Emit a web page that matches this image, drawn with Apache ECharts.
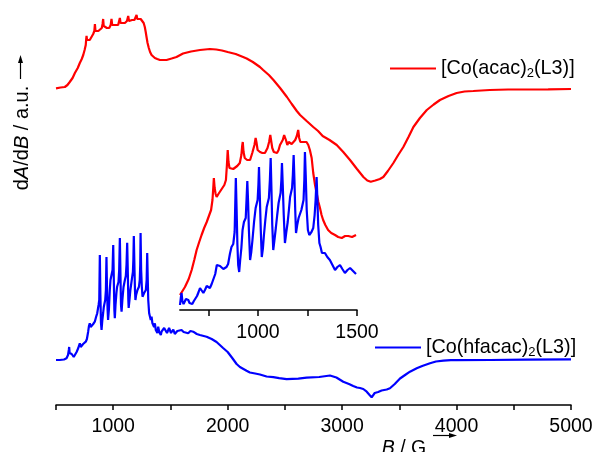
<!DOCTYPE html>
<html>
<head>
<meta charset="utf-8">
<script src="https://cdn.jsdelivr.net/npm/echarts@6/dist/echarts.min.js"></script>
<style>
html,body{margin:0;padding:0;background:#fff;}
#chart{width:596px;height:452px;}
</style>
</head>
<body>
<div id="chart"></div>
<script>
// ---- Main spectrum: [Co(acac)2(L3)] (red) ----
const acacField = [500,540,577,600,620,645,665,690,708,725,738,750,760,764,767,771,780,795,810,825,835,840,845,855,870,883,900,907,912,917,927,945,965,978,985,991,1005,1025,1043,1052,1058,1064,1080,1102,1120,1131,1138,1152,1165,1174,1185,1198,1204,1210,1224,1240,1250,1256,1266,1276,1284,1291,1300,1311,1322,1335,1350,1364,1385,1408,1435,1466,1510,1553,1610,1680,1758,1845,1900,1950,2000,2070,2135,2166,2220,2282,2310,2360,2400,2458,2518,2560,2604,2633,2690,2748,2790,2830,2890,2953,3010,3069,3130,3186,3220,3250,3290,3330,3360,3400,3448,3490,3535,3580,3623,3680,3740,3800,3855,3930,4001,4070,4146,4290,4450,4600,4800,5000];
const acacSignal = [316.7,317.5,318,320,323,327,332,337,342,346,350,355,360,366,369,365,364,365,367,371,374,381,374,373,374,375,377,381,386,379,377,377,377,380,386,380,379,380,380,382,387,382,382,382,384,389,384,384,385,386,385,386,390,386,385,386,386,385,382,378,373,368,362,357,353,350,348,347,346,345,345,345,346.5,348,351.5,353.5,355,356,355.5,354.5,353,351,348,346.5,343,338,335,330,325,317,308,301,294,290,284,278,274,269,265,260,253,245,236,228,224.5,223.3,224.5,226,228,234,242,250,258,268,278,287,295,300.5,305,309,312,313.5,314,315,315.5,315.5,315.7,316];

// ---- Main spectrum: [Co(hfacac)2(L3)] (blue) ----
const hfField = [500,533,570,592,605,612,615,619,625,630,637,645,655,665,680,694,700,708,716,723,730,737,750,760,770,781,788,795,803,810,825,839,850,860,872,878,883,888,893,898,905,912,918,930,936,941,946,951,955,962,970,976,988,994,1000,1006,1010,1014,1020,1028,1034,1046,1052,1058,1064,1068,1073,1080,1090,1102,1110,1116,1122,1128,1132,1135,1142,1150,1166,1172,1176,1180,1186,1190,1194,1200,1212,1225,1232,1236,1239,1244,1250,1256,1262,1270,1285,1292,1297,1302,1306,1314,1320,1328,1335,1342,1350,1357,1364,1372,1380,1386,1393,1402,1410,1416,1422,1430,1437,1445,1452,1460,1470,1480,1488,1495,1505,1515,1525,1538,1550,1560,1575,1597,1615,1630,1655,1675,1690,1699,1730,1757,1816,1860,1903,1960,2000,2040,2078,2107,2165,2194,2240,2282,2340,2399,2450,2515,2617,2690,2800,2894,2950,3010,3060,3097,3130,3156,3185,3215,3240,3258,3270,3285,3302,3315,3330,3345,3360,3390,3418,3460,3506,3550,3593,3652,3700,3768,3820,3885,3950,4000,4290,4600,5000];
const hfSignal = [45,45,45.5,46.7,50,55,58,52,51,50,51,52.3,48,48.3,53,56.7,59,61.7,58,59,60,61,61,63.3,66,73.3,79,81.7,78,78.3,81,83.3,88,91.7,100,105,150,110,82,75,85,92,98.3,105,115,148,115,95,85,95,115,125,127,135,160,120,95,86.7,100,112,118.3,123,135,167,125,100,93.3,105,118,125,129,140,162.3,130,105,97,105,115,128.3,133,145,169,135,115,105,110,115,118.3,125,140,172,135,118,108.3,110,112,115,125,152,125,105,91.7,90,85,88.3,82,83,78,81.7,75,76.7,72,78.3,73,75,70,73.3,74,71.7,77,75,76.7,72,73.3,77,75,72,74,75.5,71,73,74,72,75,73,71,71.7,74,73,73.3,71,70,68.3,66,63,57,53,47,41,38,34.3,32.5,31.5,30.5,28.5,27.8,26.8,25.8,26.3,27.3,28,29.5,27.5,23.3,21,19,17.5,17,16,13.3,10,7.7,9.5,12,11.7,13,12.5,14.5,14.5,15.5,16.7,21,26.5,30,33.3,36.7,39,41.7,43.5,44.3,44.8,44.8,45,45.4,45.7];

// ---- Inset (600-1500 G): red ----
const insetAcacField = [606,631,650,665,678,690,703,715,728,741,752,763,770,774,777,781,786,791,800,808,820,830,838,843,847,851,856,865,875,883,895,908,916,920,923,927,933,945,960,971,982,988,992,998,1010,1022,1035,1048,1056,1062,1066,1072,1080,1096,1104,1111,1125,1132,1136,1141,1148,1155,1162,1170,1178,1188,1196,1203,1208,1214,1221,1230,1237,1245,1254,1262,1271,1279,1288,1296,1305,1313,1321,1329,1340,1354,1370,1389,1405,1423,1440,1456,1475,1495];
const insetAcacSignal = [15,23,31,40,50,60,68,75,82,88,94,100,110,122,132,122,116,113,116,118,122,125,130,145,160,148,142,140,141,142,144,147,155,164,168,158,152,150,150,157,165,172,168,160,158,157,157,162,168,175,173,162,158,157,160,165,170,175,177,170,165,168,170,166,165,170,174,180,172,168,167,168,168,168,165,160,152,137,125,117,108,102,95,90,85,80,77,75,73,72,74,74,73,75];

// ---- Inset (600-1500 G): blue ----
const insetHfField = [606,610,614,618,624,630,636,642,648,654,660,668,676,684,692,700,707,715,724,732,741,748,757,766,774,784,792,798,808,816,825,833,841,849,858,866,875,882,888,892,896,900,905,910,916,922,929,938,942,946,950,954,960,966,972,980,988,998,1002,1005,1009,1014,1019,1025,1030,1037,1044,1055,1060,1064,1068,1072,1077,1083,1090,1097,1104,1114,1118,1121,1125,1130,1136,1143,1150,1156,1162,1172,1176,1180,1184,1188,1192,1198,1205,1212,1219,1230,1234,1237,1241,1246,1252,1259,1265,1270,1279,1286,1291,1296,1300,1304,1310,1316,1323,1338,1350,1363,1376,1389,1401,1414,1426,1439,1452,1465,1480,1495];
const insetHfSignal = [5,12,17,9,6,7,11,13,10,7,8,6,9,10,14,18,22,23,17,20,24,25,22,26,28,36,45,47,44,42,41,40,43,46,56,63,66,78,132,100,65,45,38,50,62,80,88,92,110,129,108,80,50,58,70,88,102,110,125,143,115,80,53,62,75,90,103,112,130,152,120,85,60,70,82,95,107,117,130,147,125,95,67,78,88,100,113,122,135,155,130,100,77,85,92,96,100,110,130,158,135,100,80,75,77,78,82,95,110,133,110,85,67,63,57,57,53,50,45,40,43,45,41,37,40,42,39,36];

// ---- Axis ticks / labels ----
const mainTickStep = 500;
const mainLabelStep = 1000;
const insetTickValues = [750,1000,1250,1500];
const insetTickLabels = [1000,1500];

const seriesNames = ['[Co(acac)2(L3)]','[Co(hfacac)2(L3)]'];

function zip(a,b){ return a.map((v,i)=>[v,b[i]]); }

const FONT = "Liberation Sans";
const chart = echarts.init(document.getElementById('chart'), null, {renderer:'canvas'});
const richSub = {
  sub: { fontSize: 13, lineHeight: 13, padding: [10,0,0,0], fontFamily: FONT, color:'#000' }
};
function legendFmt(name){
  return name.replace('2(', '{sub|2}(');
}
const labelStyle = { fontSize: 19.5, color: '#000', fontFamily: FONT };

const option = {
  animation: false,
  backgroundColor: '#fff',
  textStyle: { fontFamily: FONT, fontSize: 19 },
  grid: [
    { left: 56, right: 25, top: 0, height: 405, containLabel: false },
    { left: 179.8, width: 177.2, top: 110, height: 200, containLabel: false }
  ],
  xAxis: [
    {
      type: 'value', gridIndex: 0, min: 500, max: 5000, interval: mainTickStep,
      axisLine: { show: true, onZero: false, lineStyle: { color: '#000', width: 1.5 } },
      axisTick: { show: true, length: 5, lineStyle: { color: '#000', width: 1.5 } },
      axisLabel: Object.assign({ show: true, margin: 12,
        formatter: v => (v % mainLabelStep === 0 ? String(v) : '') }, labelStyle),
      splitLine: { show: false }
    },
    {
      type: 'value', gridIndex: 1, min: 605, max: 1500,
      axisLine: { show: true, onZero: false, lineStyle: { color: '#000', width: 1.5 } },
      axisTick: { show: true, length: 6, customValues: insetTickValues, lineStyle: { color: '#000', width: 1.5 } },
      axisLabel: Object.assign({ show: true, margin: 13, customValues: insetTickLabels,
        formatter: v => String(v) }, labelStyle),
      splitLine: { show: false }
    }
  ],
  yAxis: [
    { type: 'value', gridIndex: 0, min: 0, max: 405, show: false },
    { type: 'value', gridIndex: 1, min: 0, max: 200, show: false }
  ],
  legend: [
    {
      data: [seriesNames[0]], left: 390, top: 57, padding: 0, itemWidth: 46, itemHeight: 2, icon: 'rect', itemGap: 5,
      formatter: legendFmt,
      textStyle: { fontSize: 19.8, color: '#000', fontFamily: FONT, rich: richSub }
    },
    {
      data: [seriesNames[1]], left: 375, top: 336, padding: 0, itemWidth: 46, itemHeight: 2, icon: 'rect', itemGap: 5,
      formatter: legendFmt,
      textStyle: { fontSize: 19.8, color: '#000', fontFamily: FONT, rich: richSub }
    }
  ],
  series: [
    { name: seriesNames[0], type: 'line', xAxisIndex: 0, yAxisIndex: 0, data: zip(acacField, acacSignal),
      showSymbol: false, symbol: 'none', lineStyle: { color: '#ff0000', width: 2.2 }, itemStyle: { color: '#ff0000' } },
    { name: seriesNames[1], type: 'line', xAxisIndex: 0, yAxisIndex: 0, data: zip(hfField, hfSignal),
      showSymbol: false, symbol: 'none', lineStyle: { color: '#0000ff', width: 2.2 }, itemStyle: { color: '#0000ff' } },
    { name: 'insetAcac', type: 'line', xAxisIndex: 1, yAxisIndex: 1, data: zip(insetAcacField, insetAcacSignal),
      showSymbol: false, symbol: 'none', lineStyle: { color: '#ff0000', width: 2.2 }, z: 5 },
    { name: 'insetHf', type: 'line', xAxisIndex: 1, yAxisIndex: 1, data: zip(insetHfField, insetHfSignal),
      showSymbol: false, symbol: 'none', lineStyle: { color: '#0000ff', width: 2.2 }, z: 6 }
  ],
  graphic: [
    // y-axis name
    { type: 'text', x: 22, y: 138, rotation: Math.PI/2,
      style: { text: '{n|d}{i|A}{n|/d}{i|B}{n| / a.u.}', align: 'center', verticalAlign: 'middle', fill: '#000',
        rich: { n: { fontSize: 20, fontFamily: FONT, color:'#000' }, i: { fontSize: 20, fontFamily: FONT, fontStyle: 'italic', color:'#000' } } } },
    { type: 'line', shape: { x1: 20.5, y1: 79, x2: 20.5, y2: 61 }, style: { stroke: '#000', lineWidth: 1.2 } },
    { type: 'polygon', shape: { points: [[20.5,55],[18,63],[23,63]] }, style: { fill: '#000' } },
    // x-axis name
    { type: 'text', x: 404, y: 449,
      style: { text: '{i|B}{n| / G}', align: 'center', verticalAlign: 'middle', fill: '#000',
        rich: { n: { fontSize: 19.5, fontFamily: FONT, color:'#000' }, i: { fontSize: 19.5, fontFamily: FONT, fontStyle: 'italic', color:'#000' } } } },
    { type: 'line', shape: { x1: 433, y1: 435.5, x2: 450, y2: 435.5 }, style: { stroke: '#000', lineWidth: 1.2 } },
    { type: 'polygon', shape: { points: [[457,435.5],[449,433],[449,438]] }, style: { fill: '#000' } }
  ]
};
chart.setOption(option);
</script>
</body>
</html>
